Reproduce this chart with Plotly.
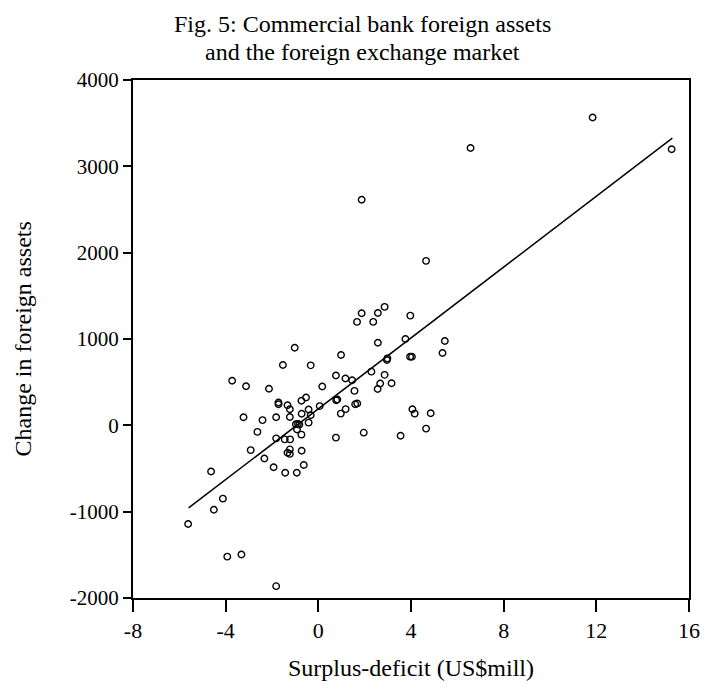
import plotly.graph_objects as go

# Surplus-deficit (US$ mill) and change in commercial bank foreign assets
surplus_deficit = [
    1.87, 1.67, 2.57, 2.86, 2.37, 3.97, -1.02, 2.57, 3.76, -1.53,
    -0.33, 0.98, 2.98, 2.96, 3.96, 4.04, -3.72, -3.12, -2.13, 0.76,
    1.17, 1.46, 2.29, 2.86, 2.67, 3.16, 2.56, 0.17, 1.56, -0.53,
    -0.73, -1.72, -1.72, -1.33, -1.23, -0.42, 0.06, 0.77, 0.82, 1.59,
    1.68, 1.18, 0.97, -0.72, -0.33, -3.23, -2.41, -1.82, -1.23, -0.97,
    -0.88, -0.82, -0.42, -0.92, 4.06, 4.16, 4.85, 4.65, -2.63, -0.73,
    0.76, 1.96, 3.55, -1.82, -1.45, -1.22, -2.92, -1.23, -1.33, -1.23,
    -0.72, -2.33, -1.93, -0.63, -1.43, -0.93, -4.63, -4.12, -4.51, -5.62,
    -3.93, -3.32, -1.82, 4.65, 1.87, 6.57, 11.84, 15.25, 5.46, 5.36,
]
change_foreign_assets = [
    1299, 1198, 1302, 1372, 1198, 1271, 899, 957, 1000, 698,
    695, 814, 776, 756, 794, 794, 517, 453, 424, 578,
    543, 523, 622, 585, 485, 488, 421, 450, 399, 322,
    285, 264, 244, 233, 186, 183, 223, 291, 299, 244,
    253, 188, 136, 134, 116, 93, 60, 93, 97, 12,
    17, 8, 31, -49, 186, 136, 140, -38, -76, -108,
    -142, -85, -120, -151, -163, -163, -287, -279, -317, -331,
    -294, -384, -485, -459, -550, -550, -535, -849, -977, -1142,
    -1521, -1497, -1863, 1905, 2613, 3213, 3566, 3198, 977, 837,
]

# Fitted regression line end points
fit_x = [-5.60, 15.28]
fit_y = [-957, 3326]

x_ticks = [-8, -4, 0, 4, 8, 12, 16]
y_ticks = [-2000, -1000, 0, 1000, 2000, 3000, 4000]

title_lines = ["Fig. 5: Commercial bank foreign assets",
               "and the foreign exchange market"]
x_title = "Surplus-deficit (US$mill)"
y_title = "Change in foreign assets"

serif = "Liberation Serif, Times New Roman, serif"

fig = go.Figure()
fig.add_trace(go.Scatter(
    x=surplus_deficit, y=change_foreign_assets, mode="markers",
    marker=dict(symbol="circle-open", size=6.5, color="black",
                line=dict(width=1.4, color="black")),
    showlegend=False, hoverinfo="x+y",
))
fig.add_trace(go.Scatter(
    x=fit_x, y=fit_y, mode="lines",
    line=dict(color="black", width=1.5),
    showlegend=False, hoverinfo="skip",
))

annotations = [
    dict(text=title_lines[0], x=0.413, y=1.108, xref="paper", yref="paper",
         xanchor="center", yanchor="middle", showarrow=False,
         font=dict(family=serif, size=24, color="black")),
    dict(text=title_lines[1], x=0.413, y=1.054, xref="paper", yref="paper",
         xanchor="center", yanchor="middle", showarrow=False,
         font=dict(family=serif, size=24, color="black")),
    dict(text=x_title, x=0.5, y=-0.135, xref="paper", yref="paper",
         xanchor="center", yanchor="middle", showarrow=False,
         font=dict(family=serif, size=24, color="black")),
    dict(text=y_title, x=-0.197, y=0.5, xref="paper", yref="paper",
         xanchor="center", yanchor="middle", textangle=-90, showarrow=False,
         font=dict(family=serif, size=24, color="black")),
]

fig.update_layout(
    width=712, height=684,
    margin=dict(l=133, r=15, t=80, b=86),
    paper_bgcolor="white", plot_bgcolor="white",
    font=dict(family=serif, color="black", size=22),
    annotations=annotations,
)
fig.update_xaxes(
    range=[-8, 16], tickvals=x_ticks, ticktext=[str(v) for v in x_ticks],
    showgrid=False, zeroline=False,
    showline=True, linecolor="black", linewidth=2, mirror=True,
    ticks="outside", ticklen=12, tickwidth=1.5, tickcolor="black",
    tickfont=dict(size=22),
)
fig.update_yaxes(
    range=[-2000, 4000], tickvals=y_ticks, ticktext=[str(v) for v in y_ticks],
    showgrid=False, zeroline=False,
    showline=True, linecolor="black", linewidth=2, mirror=True,
    ticks="outside", ticklen=8, tickwidth=1.5, tickcolor="black",
    tickfont=dict(size=21),
)

fig.write_html("out.html")
